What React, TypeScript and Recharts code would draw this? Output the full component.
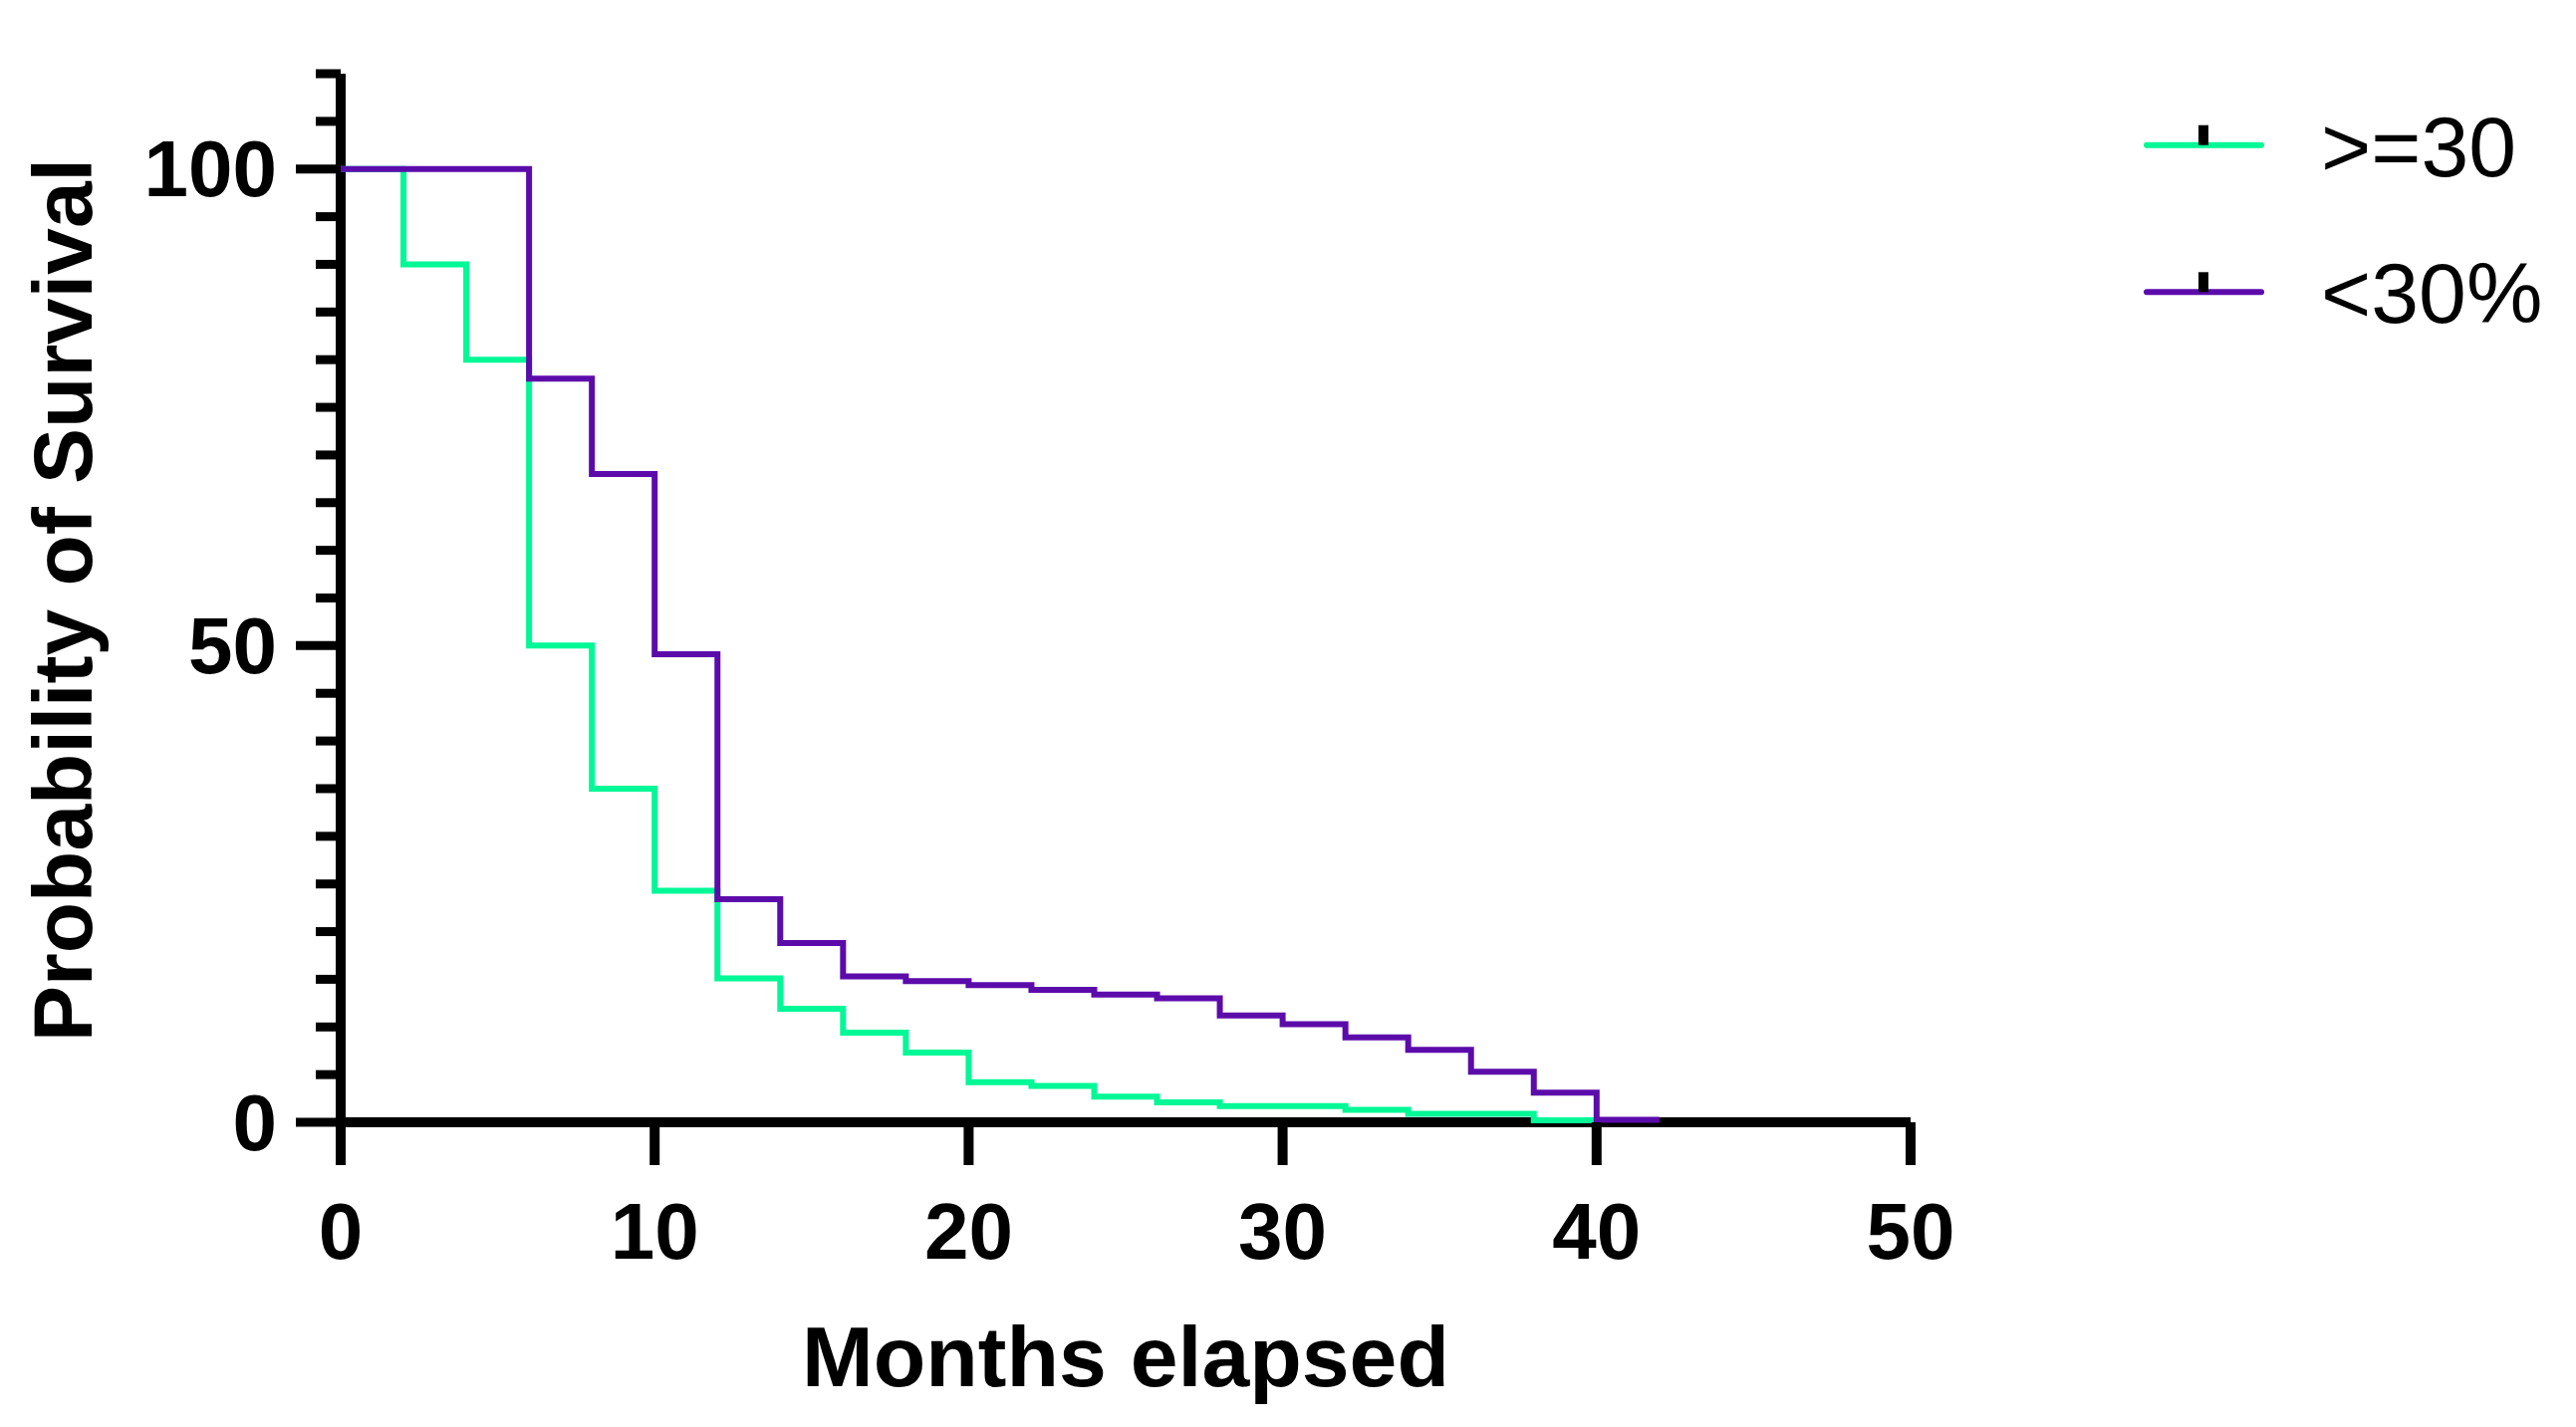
import React from "react";
import { LineChart, Line, XAxis, YAxis, Legend } from "recharts";

// ---- data ----
const months = [0, 2, 4, 6, 8, 10, 12, 14, 16, 18, 20, 22, 24, 26, 28, 30, 32, 34, 36, 38, 40, 42];
const survivalHigh = [100, 90, 80, 50, 35, 24.3, 15.1, 11.9, 9.4, 7.3, 4.2, 3.8, 2.7, 2.1, 1.7, 1.7, 1.3, 0.9, 0.9, 0.2, 0, null];
const survivalLow = [100, 100, 100, 78, 68, 49.1, 23.4, 18.8, 15.3, 14.8, 14.4, 13.9, 13.4, 13.0, 11.2, 10.3, 8.9, 7.6, 5.3, 3.1, 0.25, 0.25];
const seriesNames = [">=30", "<30%"];
const xTicks = [0, 10, 20, 30, 40, 50];
const yTicks = [0, 5, 10, 15, 20, 25, 30, 35, 40, 45, 50, 55, 60, 65, 70, 75, 80, 85, 90, 95, 100, 105, 110];
const yMajorTicks = [0, 50, 100];
const xTitle = "Months elapsed";
const yTitle = "Probability of Survival";

const tableData = months.map((t, i) => ({ t, high: survivalHigh[i], low: survivalLow[i] }));

const GREEN = "#00F896";
const PURPLE = "#5C0BAB";
const FONT = "'Liberation Sans', Arial, Helvetica, sans-serif";

const YTick = (props: any) => {
  const { x, y, payload } = props;
  const v = payload.value;
  const major = yMajorTicks.includes(v);
  const len = major ? 45 : 25;
  return (
    <g>
      <line x1={x - len} x2={x} y1={y} y2={y} stroke="#000" strokeWidth={9} />
      {major && (
        <text x={x - 64} y={y} textAnchor="end" dominantBaseline="central" fontFamily={FONT} fontWeight={700} fontSize={80} fill="#000">
          {v}
        </text>
      )}
    </g>
  );
};

const XTick = (props: any) => {
  const { x, y, payload } = props;
  return (
    <g>
      <line x1={x} x2={x} y1={y} y2={y + 43} stroke="#000" strokeWidth={10} />
      <text x={x} y={y + 109} textAnchor="middle" dominantBaseline="central" fontFamily={FONT} fontWeight={700} fontSize={80} fill="#000">
        {payload.value}
      </text>
    </g>
  );
};

const XTitle = (props: any) => {
  const vb = props.viewBox || {};
  const cx = (vb.x ?? 0) + (vb.width ?? 0) / 2;
  return (
    <text x={cx} y={(vb.y ?? 0) + 265} textAnchor="middle" fontFamily={FONT} fontWeight={700} fontSize={86} fill="#000">
      {xTitle}
    </text>
  );
};

const YTitle = (props: any) => {
  const vb = props.viewBox || {};
  const cy = (vb.y ?? 0) + (vb.height ?? 0) / 2 + 2;
  const cx = 84;
  return (
    <text x={cx} y={cy} transform={`rotate(-90, ${cx}, ${cy})`} textAnchor="middle" fontFamily={FONT} fontWeight={700} fontSize={84} fill="#000">
      {yTitle}
    </text>
  );
};

const LegendContent = (props: any) => {
  const payload = (props.payload || [])
    .slice()
    .sort((a: any, b: any) => seriesNames.indexOf(a.value) - seriesNames.indexOf(b.value));
  return (
    <svg width={470} height={290} style={{ display: "block", overflow: "visible" }}>
      {payload.map((p: any, i: number) => {
        const ly = 65.7 + i * 147.6;
        return (
          <g key={i}>
            <line x1={55} x2={170} y1={ly} y2={ly} stroke={p.color} strokeWidth={6} strokeLinecap="round" />
            <rect x={107} y={ly - 20} width={10} height={20} fill="#000" />
            <text x={230} y={ly + 31} fontFamily={FONT} fontSize={86} fill="#000">
              {p.value}
            </text>
          </g>
        );
      })}
    </svg>
  );
};

export default function App() {
  return (
    <div style={{ width: 2570, height: 1417, background: "#fff" }}>
      <LineChart width={2570} height={1417} data={tableData} margin={{ top: 66, right: 660, bottom: 0, left: 0 }}>
        <XAxis
          dataKey="t"
          type="number"
          domain={[0, 50]}
          ticks={xTicks}
          interval={0}
          height={298}
          tickSize={0}
          tickMargin={0}
          tickLine={false}
          axisLine={{ stroke: "#000", strokeWidth: 10 }}
          tick={<XTick />}
          label={(p: any) => <XTitle {...p} />}
        />
        <YAxis
          type="number"
          domain={[0, 110]}
          ticks={yTicks}
          interval={0}
          width={334}
          tickSize={0}
          tickMargin={0}
          tickLine={false}
          axisLine={{ stroke: "#000", strokeWidth: 10 }}
          tick={<YTick />}
          label={(p: any) => <YTitle {...p} />}
        />
        <Legend
          layout="vertical"
          align="center"
          verticalAlign="middle"
          wrapperStyle={{ position: "absolute", left: 2092, top: 72, width: 470, height: 290 }}
          content={<LegendContent />}
        />
        <Line
          dataKey="high"
          name={seriesNames[0]}
          type="stepAfter"
          stroke={GREEN}
          strokeWidth={6}
          dot={false}
          activeDot={false}
          isAnimationActive={false}
          connectNulls={false}
          {...({ zIndex: 1000 } as any)}
        />
        <Line
          dataKey="low"
          name={seriesNames[1]}
          type="stepAfter"
          stroke={PURPLE}
          strokeWidth={6}
          dot={false}
          activeDot={false}
          isAnimationActive={false}
          {...({ zIndex: 1001 } as any)}
        />
      </LineChart>
    </div>
  );
}
